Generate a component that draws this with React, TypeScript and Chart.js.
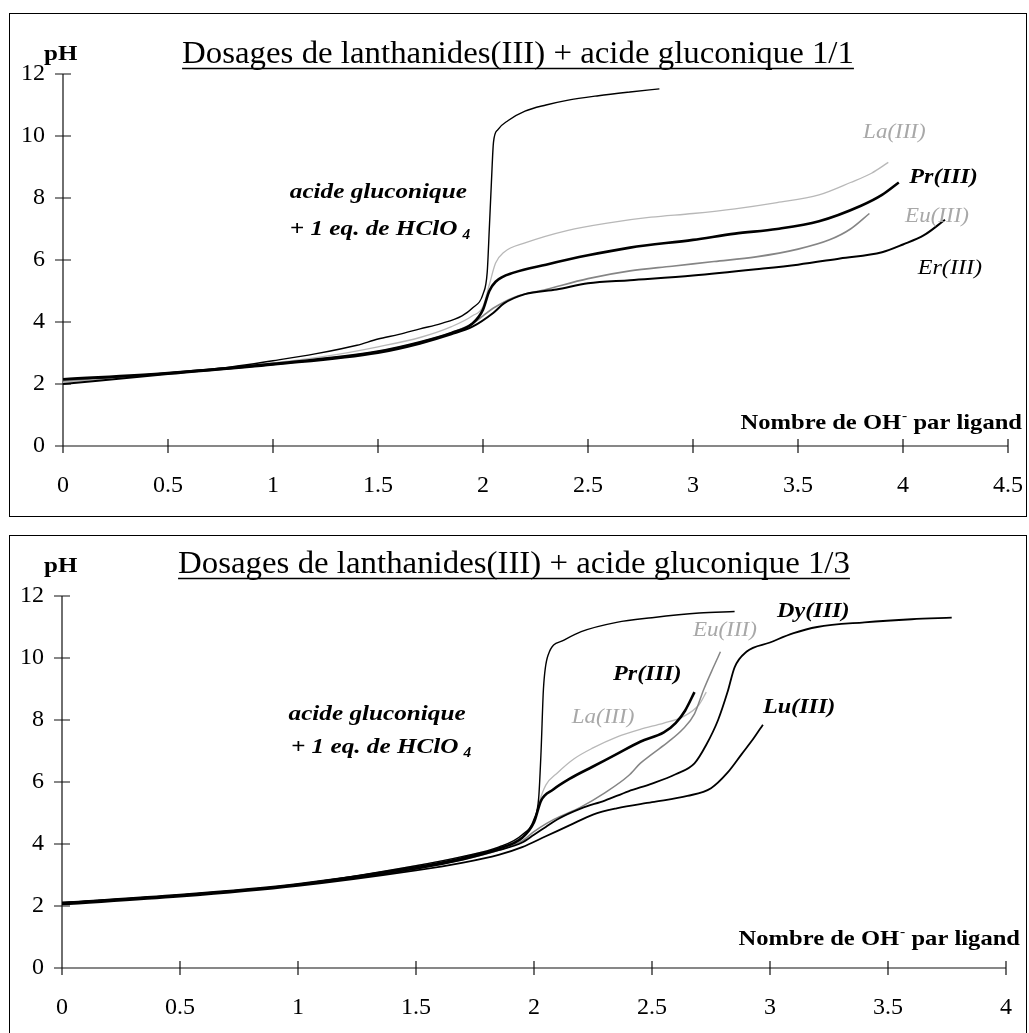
import React, { useEffect, useRef } from 'react';
import { Chart, registerables } from 'chart.js';

Chart.register(...registerables);

// ---------- shared ticks ----------
const Y_TICKS = [0, 2, 4, 6, 8, 10, 12];
const TOP_X_TICKS = [0, 0.5, 1, 1.5, 2, 2.5, 3, 3.5, 4, 4.5];
const BOTTOM_X_TICKS = [0, 0.5, 1, 1.5, 2, 2.5, 3, 3.5, 4];

const TOP_TITLE = 'Dosages de lanthanides(III) + acide gluconique 1/1';
const BOTTOM_TITLE = 'Dosages de lanthanides(III) + acide gluconique 1/3';

// ---------- top chart (1/1) ----------
const topAcidX = [0, 0.2, 0.4, 0.6, 0.8, 1.0, 1.2, 1.4, 1.5, 1.6, 1.7, 1.8, 1.9, 1.95, 2.0, 2.02, 2.03, 2.04, 2.05, 2.07, 2.12, 2.2, 2.3, 2.4, 2.55, 2.7, 2.84];
const topAcidY = [2.15, 2.2, 2.3, 2.42, 2.55, 2.75, 2.97, 3.25, 3.45, 3.6, 3.78, 3.95, 4.2, 4.45, 4.9, 5.6, 7.0, 8.5, 9.8, 10.2, 10.5, 10.8, 11.0, 11.15, 11.3, 11.42, 11.52];

const topLaX = [0, 0.5, 1.0, 1.3, 1.5, 1.7, 1.85, 1.95, 2.0, 2.03, 2.06, 2.1, 2.2, 2.4, 2.6, 2.8, 3.0, 3.2, 3.4, 3.6, 3.75, 3.85, 3.93];
const topLaY = [2.05, 2.35, 2.68, 2.95, 3.2, 3.5, 3.85, 4.2, 4.5, 5.2, 5.9, 6.25, 6.55, 6.95, 7.2, 7.38, 7.5, 7.65, 7.85, 8.1, 8.5, 8.8, 9.15];

const topPrX = [0, 0.5, 1.0, 1.5, 1.7, 1.85, 1.95, 2.0, 2.03, 2.06, 2.15, 2.3, 2.5, 2.7, 3.0, 3.2, 3.4, 3.6, 3.8, 3.9, 3.98];
const topPrY = [2.15, 2.35, 2.65, 3.05, 3.35, 3.65, 3.95, 4.4, 5.0, 5.3, 5.6, 5.85, 6.15, 6.4, 6.65, 6.85, 7.0, 7.25, 7.75, 8.1, 8.5];

const topEuX = [0, 0.5, 1.0, 1.5, 1.7, 1.85, 1.95, 2.0, 2.05, 2.15, 2.3, 2.5, 2.7, 2.9, 3.1, 3.3, 3.5, 3.65, 3.75, 3.84];
const topEuY = [2.1, 2.35, 2.65, 3.05, 3.35, 3.65, 3.95, 4.2, 4.45, 4.8, 5.05, 5.4, 5.65, 5.8, 5.95, 6.1, 6.35, 6.65, 7.0, 7.5];

const topErX = [0, 0.5, 1.0, 1.5, 1.7, 1.85, 1.95, 2.05, 2.1, 2.2, 2.35, 2.5, 2.7, 3.0, 3.3, 3.5, 3.7, 3.9, 4.0, 4.1, 4.2];
const topErY = [2.0, 2.32, 2.62, 3.0, 3.3, 3.6, 3.85, 4.3, 4.6, 4.9, 5.05, 5.25, 5.35, 5.5, 5.7, 5.85, 6.05, 6.25, 6.5, 6.8, 7.3];

// ---------- bottom chart (1/3) ----------
const botAcidX = [0, 0.5, 1.0, 1.5, 1.7, 1.85, 1.95, 2.0, 2.02, 2.03, 2.04, 2.06, 2.12, 2.2, 2.35, 2.5, 2.7, 2.85];
const botAcidY = [2.1, 2.35, 2.7, 3.3, 3.6, 3.9, 4.3, 4.8, 5.5, 7.0, 9.0, 10.1, 10.55, 10.85, 11.15, 11.3, 11.45, 11.5];

const botLaX = [0, 0.5, 1.0, 1.5, 1.7, 1.85, 1.95, 2.0, 2.02, 2.05, 2.1, 2.17, 2.25, 2.35, 2.45, 2.55, 2.63, 2.7, 2.73];
const botLaY = [2.1, 2.35, 2.7, 3.3, 3.6, 3.9, 4.25, 4.7, 5.3, 5.9, 6.3, 6.75, 7.1, 7.45, 7.7, 7.9, 8.1, 8.5, 8.9];

const botPrX = [0, 0.5, 1.0, 1.5, 1.7, 1.85, 1.95, 2.0, 2.03, 2.08, 2.15, 2.25, 2.35, 2.45, 2.55, 2.6, 2.64, 2.68];
const botPrY = [2.1, 2.35, 2.7, 3.25, 3.55, 3.85, 4.2, 4.7, 5.4, 5.75, 6.1, 6.5, 6.9, 7.3, 7.6, 7.9, 8.3, 8.9];

const botEuX = [0, 0.5, 1.0, 1.5, 1.7, 1.85, 1.95, 2.0, 2.05, 2.1, 2.2, 2.3, 2.4, 2.45, 2.5, 2.57, 2.63, 2.68, 2.72, 2.76, 2.79];
const botEuY = [2.1, 2.35, 2.68, 3.2, 3.5, 3.8, 4.1, 4.4, 4.65, 4.85, 5.2, 5.65, 6.2, 6.6, 6.9, 7.3, 7.7, 8.2, 9.0, 9.7, 10.2];

const botDyX = [0, 0.5, 1.0, 1.5, 1.7, 1.85, 1.95, 2.0, 2.05, 2.1, 2.2, 2.3, 2.4, 2.5, 2.6, 2.68, 2.73, 2.78, 2.82, 2.85, 2.9, 3.0, 3.1, 3.2, 3.4, 3.6, 3.77];
const botDyY = [2.1, 2.35, 2.68, 3.2, 3.5, 3.8, 4.05, 4.3, 4.55, 4.8, 5.15, 5.4, 5.7, 5.95, 6.25, 6.6, 7.2, 8.0, 8.9, 9.7, 10.2, 10.5, 10.8, 11.0, 11.15, 11.25, 11.3];

const botLuX = [0, 0.5, 1.0, 1.5, 1.7, 1.85, 1.95, 2.05, 2.15, 2.25, 2.35, 2.5, 2.65, 2.75, 2.82, 2.88, 2.93, 2.97];
const botLuY = [2.05, 2.3, 2.65, 3.15, 3.4, 3.65, 3.9, 4.25, 4.6, 4.95, 5.15, 5.35, 5.55, 5.8, 6.3, 6.9, 7.4, 7.85];

// ---------- helpers ----------
const SERIF = '"Liberation Serif", "Times New Roman", serif';

function pts(xs: number[], ys: number[]) {
  return xs.map((x, i) => ({ x, y: ys[i] }));
}

type Series = { name: string; xs: number[]; ys: number[]; color: string; width: number };
type Label = { text: string; x: number; y: number; style: 'bold' | 'gray' | 'italic' | 'note'; sub?: string };

type PanelCfg = {
  top: number;
  height: number;
  xMax: number;
  xTicks: number[];
  title: string;
  titleCenter: number;
  titleBaseline: number;
  padTop: number;
  padRight: number;
  yAxisWidth: number;
  xAxisHeight: number;
  pHBaseline: number;
  axisTitleBaseline: number;
  series: Series[];
  labels: Label[];
};

function drawStretched(ctx: CanvasRenderingContext2D, text: string, x: number, y: number, font: string, color: string, sx: number, align: 'left' | 'right' | 'center' = 'left', baseline: CanvasTextBaseline = 'middle') {
  ctx.save();
  ctx.font = font;
  ctx.fillStyle = color;
  ctx.textBaseline = baseline;
  ctx.textAlign = 'left';
  const w = ctx.measureText(text).width * sx;
  const left = align === 'left' ? x : align === 'right' ? x - w : x - w / 2;
  ctx.translate(left, y);
  ctx.scale(sx, 1);
  ctx.fillText(text, 0, 0);
  ctx.restore();
  return { left, w };
}

function makeDecor(cfg: PanelCfg) {
  return {
    id: 'decor',
    beforeDatasetsDraw(chart: any) {
      const ctx: CanvasRenderingContext2D = chart.ctx;
      const xs = chart.scales.x;
      const ys = chart.scales.y;
      const x0 = xs.getPixelForValue(0);
      const x1 = xs.getPixelForValue(cfg.xMax);
      const y0 = ys.getPixelForValue(0);
      const y1 = ys.getPixelForValue(12);
      ctx.save();
      ctx.strokeStyle = '#111';
      ctx.lineWidth = 1.2;
      ctx.beginPath();
      ctx.moveTo(x0, y0);
      ctx.lineTo(x1, y0);
      ctx.moveTo(x0, y0);
      ctx.lineTo(x0, y1);
      for (const v of Y_TICKS) {
        const p = ys.getPixelForValue(v);
        ctx.moveTo(x0 - 8, p);
        ctx.lineTo(x0 + 8, p);
      }
      for (const v of cfg.xTicks) {
        const p = xs.getPixelForValue(v);
        ctx.moveTo(p, y0 - 7);
        ctx.lineTo(p, y0 + 7);
      }
      ctx.stroke();
      ctx.restore();
    },
    afterDraw(chart: any) {
      const ctx: CanvasRenderingContext2D = chart.ctx;
      const xs = chart.scales.x;
      const ys = chart.scales.y;
      // title with underline
      const t = drawStretched(ctx, cfg.title, cfg.titleCenter, cfg.titleBaseline, `31px ${SERIF}`, '#000', 1.06, 'center', 'alphabetic');
      ctx.save();
      ctx.strokeStyle = '#000';
      ctx.lineWidth = 1.6;
      ctx.beginPath();
      ctx.moveTo(t.left, cfg.titleBaseline + 5.5);
      ctx.lineTo(t.left + t.w, cfg.titleBaseline + 5.5);
      ctx.stroke();
      ctx.restore();
      // pH
      drawStretched(ctx, 'pH', 44, cfg.pHBaseline, `bold 20px ${SERIF}`, '#000', 1.25, 'left', 'alphabetic');
      // x axis title, right aligned
      const right = xs.getPixelForValue(cfg.xMax) + 14;
      const f = `bold 21px ${SERIF}`;
      ctx.save();
      ctx.font = f;
      const sx = 1.17;
      const wA = ctx.measureText('Nombre de OH').width * sx;
      const wC = ctx.measureText(' par ligand').width * sx;
      ctx.font = `bold 13px ${SERIF}`;
      const wB = ctx.measureText('-').width * 1.2 + 1;
      ctx.restore();
      const start = right - (wA + wB + wC);
      const b = cfg.axisTitleBaseline;
      drawStretched(ctx, 'Nombre de OH', start, b, f, '#000', sx, 'left', 'alphabetic');
      drawStretched(ctx, '-', start + wA + 1, b - 9, `bold 13px ${SERIF}`, '#000', 1.2, 'left', 'alphabetic');
      drawStretched(ctx, ' par ligand', start + wA + wB, b, f, '#000', sx, 'left', 'alphabetic');
      // labels
      for (const l of cfg.labels) {
        const px = xs.getPixelForValue(l.x);
        const py = ys.getPixelForValue(l.y);
        let font = `bold italic 21px ${SERIF}`;
        let color = '#000';
        let stretch = 1.15;
        if (l.style === 'gray') {
          font = `italic 20px ${SERIF}`;
          color = '#a8a8a8';
        } else if (l.style === 'italic') {
          font = `italic 21px ${SERIF}`;
        } else if (l.style === 'note') {
          font = `bold italic 21px ${SERIF}`;
          stretch = 1.2;
        }
        const r = drawStretched(ctx, l.text, px, py, font, color, stretch, 'left', 'middle');
        if (l.sub) {
          drawStretched(ctx, l.sub, r.left + r.w + 5, py + 5, `bold italic 14px ${SERIF}`, color, 1.1, 'left', 'middle');
        }
      }
    },
  };
}

function Panel({ cfg }: { cfg: PanelCfg }) {
  const ref = useRef<HTMLCanvasElement | null>(null);
  useEffect(() => {
    if (!ref.current) return;
    const chart = new Chart(ref.current, {
      type: 'line',
      data: {
        datasets: cfg.series.map((s) => ({
          label: s.name,
          data: pts(s.xs, s.ys),
          borderColor: s.color,
          borderWidth: s.width,
          pointRadius: 0,
          fill: false,
          cubicInterpolationMode: 'monotone' as const,
        })),
      },
      options: {
        animation: false,
        responsive: false,
        maintainAspectRatio: false,
        layout: { padding: { top: cfg.padTop, right: cfg.padRight, left: 0, bottom: 0 } },
        plugins: { legend: { display: false }, tooltip: { enabled: false }, title: { display: false } },
        scales: {
          x: {
            type: 'linear',
            min: 0,
            max: cfg.xMax,
            grid: { display: false, drawTicks: false },
            border: { display: false },
            afterBuildTicks: (s: any) => {
              s.ticks = cfg.xTicks.map((v) => ({ value: v }));
            },
            afterFit: (s: any) => {
              s.height = cfg.xAxisHeight;
              s.paddingLeft = 0;
              s.paddingRight = 0;
            },
            ticks: {
              font: { family: SERIF, size: 24 },
              color: '#000',
              padding: 25,
              maxRotation: 0,
              autoSkip: false,
              callback: (v: any) => String(v),
            },
          },
          y: {
            type: 'linear',
            min: 0,
            max: 12,
            grid: { display: false, drawTicks: false },
            border: { display: false },
            afterBuildTicks: (s: any) => {
              s.ticks = Y_TICKS.map((v) => ({ value: v }));
            },
            afterFit: (s: any) => {
              s.width = cfg.yAxisWidth;
              s.paddingTop = 0;
              s.paddingBottom = 0;
            },
            ticks: {
              font: { family: SERIF, size: 24 },
              color: '#000',
              padding: 18,
              callback: (v: any) => String(v),
            },
          },
        },
      },
      plugins: [makeDecor(cfg)],
    });
    return () => chart.destroy();
  }, [cfg]);
  return (
    <canvas
      ref={ref}
      width={1029}
      height={cfg.height}
      style={{ position: 'absolute', left: 0, top: cfg.top, width: 1029, height: cfg.height }}
    />
  );
}

const TOP_CFG: PanelCfg = {
  top: 0,
  height: 520,
  xMax: 4.5,
  xTicks: TOP_X_TICKS,
  title: TOP_TITLE,
  titleCenter: 518,
  titleBaseline: 63,
  padTop: 74,
  padRight: 21,
  yAxisWidth: 63,
  xAxisHeight: 74,
  pHBaseline: 60,
  axisTitleBaseline: 429,
  series: [
    { name: 'acide gluconique + 1 eq. HClO4', xs: topAcidX, ys: topAcidY, color: '#000', width: 1.4 },
    { name: 'Pr(III)', xs: topPrX, ys: topPrY, color: '#000', width: 2.6 },
    { name: 'Er(III)', xs: topErX, ys: topErY, color: '#000', width: 2.0 },
    { name: 'Eu(III)', xs: topEuX, ys: topEuY, color: '#858585', width: 1.6 },
    { name: 'La(III)', xs: topLaX, ys: topLaY, color: '#b8b8b8', width: 1.3 },
  ],
  labels: [
    { text: 'acide gluconique', x: 1.08, y: 8.16, style: 'note' },
    { text: '+ 1 eq. de HClO', x: 1.08, y: 6.97, style: 'note', sub: '4' },
    { text: 'La(III)', x: 3.81, y: 10.1, style: 'gray' },
    { text: 'Pr(III)', x: 4.03, y: 8.65, style: 'bold' },
    { text: 'Eu(III)', x: 4.01, y: 7.39, style: 'gray' },
    { text: 'Er(III)', x: 4.07, y: 5.74, style: 'italic' },
  ],
};

const BOTTOM_CFG: PanelCfg = {
  top: 520,
  height: 513,
  xMax: 4,
  xTicks: BOTTOM_X_TICKS,
  title: BOTTOM_TITLE,
  titleCenter: 514,
  titleBaseline: 53,
  padTop: 76,
  padRight: 23,
  yAxisWidth: 62,
  xAxisHeight: 65,
  pHBaseline: 52,
  axisTitleBaseline: 425,
  series: [
    { name: 'acide gluconique + 1 eq. HClO4', xs: botAcidX, ys: botAcidY, color: '#000', width: 1.4 },
    { name: 'Pr(III)', xs: botPrX, ys: botPrY, color: '#000', width: 2.6 },
    { name: 'Dy(III)', xs: botDyX, ys: botDyY, color: '#000', width: 1.8 },
    { name: 'Lu(III)', xs: botLuX, ys: botLuY, color: '#000', width: 1.8 },
    { name: 'Eu(III)', xs: botEuX, ys: botEuY, color: '#858585', width: 1.5 },
    { name: 'La(III)', xs: botLaX, ys: botLaY, color: '#b8b8b8', width: 1.3 },
  ],
  labels: [
    { text: 'acide gluconique', x: 0.96, y: 8.19, style: 'note' },
    { text: '+ 1 eq. de HClO', x: 0.97, y: 7.1, style: 'note', sub: '4' },
    { text: 'La(III)', x: 2.16, y: 8.06, style: 'gray' },
    { text: 'Pr(III)', x: 2.335, y: 9.45, style: 'bold' },
    { text: 'Eu(III)', x: 2.674, y: 10.87, style: 'gray' },
    { text: 'Dy(III)', x: 3.03, y: 11.5, style: 'bold' },
    { text: 'Lu(III)', x: 2.97, y: 8.39, style: 'bold' },
  ],
};

export default function App() {
  return (
    <div style={{ position: 'absolute', left: 0, top: 0, width: 1029, height: 1033, background: '#fff', overflow: 'hidden' }}>
      <div style={{ position: 'absolute', left: 9, top: 13, width: 1018, height: 504, border: '1px solid #000', boxSizing: 'border-box' }} />
      <div style={{ position: 'absolute', left: 9, top: 535, width: 1018, height: 520, border: '1px solid #000', boxSizing: 'border-box' }} />
      <Panel cfg={TOP_CFG} />
      <Panel cfg={BOTTOM_CFG} />
    </div>
  );
}
